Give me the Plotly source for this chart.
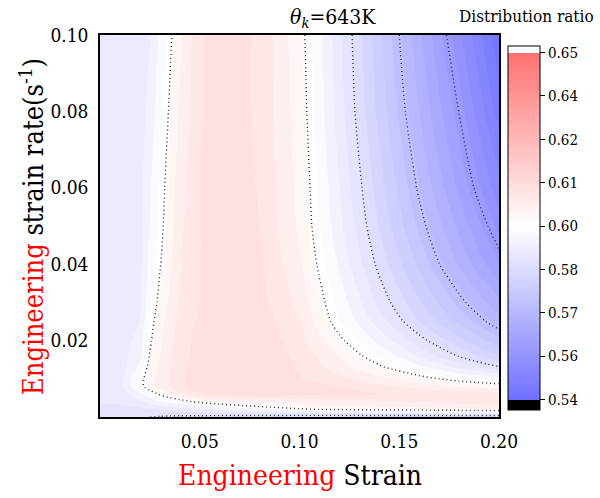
import plotly.graph_objects as go

# Engineering strain (columns) and strain rate in s^-1 (rows)
strain = [0, 0.01, 0.02, 0.025, 0.03, 0.035, 0.04, 0.05, 0.06, 0.08,
          0.10, 0.12, 0.14, 0.16, 0.18, 0.20]
strain_rate = [0, 0.001, 0.002, 0.003, 0.004, 0.006, 0.008, 0.010, 0.013,
               0.016, 0.020, 0.025, 0.030, 0.040, 0.050, 0.060, 0.080, 0.100]

# Distribution ratio, one row per strain rate
ratio = [
    [0.585, 0.5848, 0.5843, 0.584, 0.5838, 0.5835, 0.5833, 0.583, 0.5825, 0.582, 0.5815, 0.581, 0.581, 0.5805, 0.5805, 0.580],
    [0.5855, 0.5855, 0.5853, 0.5852, 0.5852, 0.5853, 0.5855, 0.586, 0.5865, 0.587, 0.5875, 0.588, 0.5885, 0.589, 0.5895, 0.590],
    [0.586, 0.586, 0.586, 0.5865, 0.587, 0.5875, 0.588, 0.589, 0.590, 0.594, 0.5965, 0.5975, 0.5985, 0.599, 0.5995, 0.600],
    [0.5865, 0.5865, 0.5875, 0.5885, 0.5895, 0.5903, 0.591, 0.5925, 0.5955, 0.598, 0.5995, 0.601, 0.6015, 0.602, 0.6025, 0.603],
    [0.587, 0.5872, 0.589, 0.5905, 0.592, 0.5935, 0.595, 0.5983, 0.5995, 0.6005, 0.6015, 0.6025, 0.603, 0.6035, 0.604, 0.6045],
    [0.5875, 0.5878, 0.5915, 0.5945, 0.5975, 0.600, 0.6025, 0.6055, 0.607, 0.6075, 0.607, 0.6065, 0.606, 0.6055, 0.605, 0.6045],
    [0.588, 0.5882, 0.5955, 0.5995, 0.6015, 0.6035, 0.6055, 0.6075, 0.608, 0.608, 0.607, 0.6058, 0.604, 0.6022, 0.6005, 0.5988],
    [0.588, 0.5882, 0.5955, 0.5993, 0.6015, 0.6035, 0.6055, 0.6075, 0.608, 0.608, 0.6062, 0.604, 0.601, 0.5985, 0.5955, 0.5935],
    [0.588, 0.588, 0.593, 0.5985, 0.601, 0.6035, 0.6053, 0.6072, 0.608, 0.608, 0.6058, 0.6018, 0.5977, 0.5931, 0.5887, 0.5843],
    [0.588, 0.588, 0.5915, 0.5973, 0.6005, 0.603, 0.605, 0.607, 0.608, 0.608, 0.6052, 0.6003, 0.5946, 0.5891, 0.5837, 0.5785],
    [0.588, 0.588, 0.5905, 0.5964, 0.600, 0.6025, 0.6045, 0.607, 0.608, 0.608, 0.6045, 0.5978, 0.5914, 0.5852, 0.5795, 0.5738],
    [0.588, 0.588, 0.5895, 0.5956, 0.599, 0.602, 0.604, 0.6065, 0.608, 0.6075, 0.6035, 0.5952, 0.5881, 0.5813, 0.5751, 0.569],
    [0.588, 0.588, 0.589, 0.5945, 0.598, 0.601, 0.6035, 0.606, 0.608, 0.607, 0.6025, 0.5939, 0.586, 0.5789, 0.5721, 0.5655],
    [0.588, 0.588, 0.5885, 0.5932, 0.5967, 0.600, 0.603, 0.6058, 0.608, 0.6065, 0.601, 0.5918, 0.5831, 0.575, 0.5672, 0.5595],
    [0.588, 0.588, 0.5885, 0.5923, 0.5958, 0.5993, 0.6025, 0.606, 0.608, 0.606, 0.600, 0.5903, 0.5811, 0.5724, 0.564, 0.5557],
    [0.588, 0.588, 0.5885, 0.5918, 0.5953, 0.5988, 0.602, 0.606, 0.608, 0.6058, 0.5997, 0.5895, 0.5798, 0.5704, 0.5615, 0.5521],
    [0.588, 0.588, 0.5882, 0.5905, 0.594, 0.5975, 0.601, 0.6055, 0.608, 0.6055, 0.599, 0.5881, 0.5776, 0.5675, 0.5579, 0.547],
    [0.588, 0.588, 0.5882, 0.5893, 0.5928, 0.5963, 0.5998, 0.6055, 0.608, 0.6055, 0.5985, 0.5875, 0.5765, 0.5655, 0.5545, 0.5435],
]

x_ticks = [0.05, 0.10, 0.15, 0.20]
x_labels = ["0.05", "0.10", "0.15", "0.20"]
y_ticks = [0.02, 0.04, 0.06, 0.08, 0.10]
y_labels = ["0.02", "0.04", "0.06", "0.08", "0.10"]
cbar_ticks = [0.54, 0.55375, 0.5675, 0.58125, 0.595, 0.60875, 0.6225, 0.63625, 0.65]
cbar_labels = ["0.54", "0.56", "0.57", "0.58", "0.60", "0.61", "0.62", "0.64", "0.65"]

# blue-white-red map between 0.54 and 0.65, black below and white above
vmin, vmax = 0.54, 0.65
cmin, cmax = 0.5367, 0.6521
span = cmax - cmin
p_lo = (vmin - cmin) / span
p_mid = ((vmin + vmax) / 2 - cmin) / span
p_hi = (vmax - cmin) / span
bwr = [
    [0.0, "rgb(0,0,0)"],
    [p_lo - 1e-6, "rgb(0,0,0)"],
    [p_lo, "rgb(112,112,255)"],
    [p_mid, "rgb(255,255,255)"],
    [p_hi, "rgb(255,112,112)"],
    [p_hi + 1e-6, "rgb(255,255,255)"],
    [1.0, "rgb(255,255,255)"],
]

FONT = "DejaVu Serif Condensed"

fig = go.Figure()

# continuous field underneath (also carries the colour bar)
fig.add_trace(go.Heatmap(
    x=strain, y=strain_rate, z=ratio,
    colorscale=bwr, zmin=cmin, zmax=cmax, zsmooth="best",
    showscale=True,
    colorbar=dict(
        x=1.0226, xanchor="left", xpad=0,
        y=0.4948, yanchor="middle", len=1.005, lenmode="fraction",
        thickness=32, outlinewidth=1, outlinecolor="black",
        tickvals=cbar_ticks, ticktext=cbar_labels,
        ticks="outside", ticklen=5, tickwidth=1, tickcolor="black",
        tickfont=dict(family=FONT, size=15, color="black"),
    ),
    hoverinfo="skip",
))

# filled contour bands
fig.add_trace(go.Contour(
    x=strain, y=strain_rate, z=ratio,
    colorscale=bwr, zmin=cmin, zmax=cmax,
    contours=dict(coloring="fill", start=vmin, end=vmax, size=0.00275),
    line=dict(width=0, smoothing=0.6),
    showscale=False, hoverinfo="skip",
))

# dotted iso-lines
fig.add_trace(go.Contour(
    x=strain, y=strain_rate, z=ratio,
    contours=dict(coloring="none", start=0.558, end=0.597, size=0.013),
    line=dict(color="#2a2a2a", width=1.4, dash="1px,3px", smoothing=0.7),
    showscale=False, hoverinfo="skip",
))

axis_common = dict(
    showline=True, mirror=True, linecolor="black", linewidth=1.5,
    showgrid=False, zeroline=False, ticks="",
    tickfont=dict(family=FONT, size=19, color="black"),
)

fig.update_layout(
    width=600, height=498,
    margin=dict(l=100, r=101, t=35, b=81),
    paper_bgcolor="white", plot_bgcolor="white",
    font=dict(family=FONT, color="black"),
    showlegend=False,
    xaxis=dict(range=[0, 0.2], tickvals=x_ticks, ticktext=x_labels,
               ticklabelstandoff=6, **axis_common),
    yaxis=dict(range=[0, 0.1], tickvals=y_ticks, ticktext=y_labels,
               ticklabelstandoff=6, **axis_common),
    annotations=[
        dict(text="<i>θ</i><sub><i>k</i></sub>=643K",
             x=0.583, y=1.0, xref="paper", yref="paper",
             xanchor="center", yanchor="bottom", yshift=2, showarrow=False,
             font=dict(family=FONT, size=21, color="black")),
        dict(text="Distribution ratio",
             x=1.069, y=1.0, xref="paper", yref="paper",
             xanchor="center", yanchor="bottom", yshift=7, showarrow=False,
             font=dict(family=FONT, size=17, color="black")),
        dict(text="<span style='color:red'>Engineering</span> Strain",
             x=0.5, y=-0.152, xref="paper", yref="paper",
             xanchor="center", yanchor="middle", showarrow=False,
             font=dict(family=FONT, size=28, color="black")),
        dict(text="<span style='color:red'>Engineering</span> strain rate(s<sup>-1</sup>)",
             x=-0.173, y=0.5, xref="paper", yref="paper", textangle=-90,
             xanchor="center", yanchor="middle", showarrow=False,
             font=dict(family=FONT, size=27, color="black")),
    ],
)

fig.write_html("out.html")
